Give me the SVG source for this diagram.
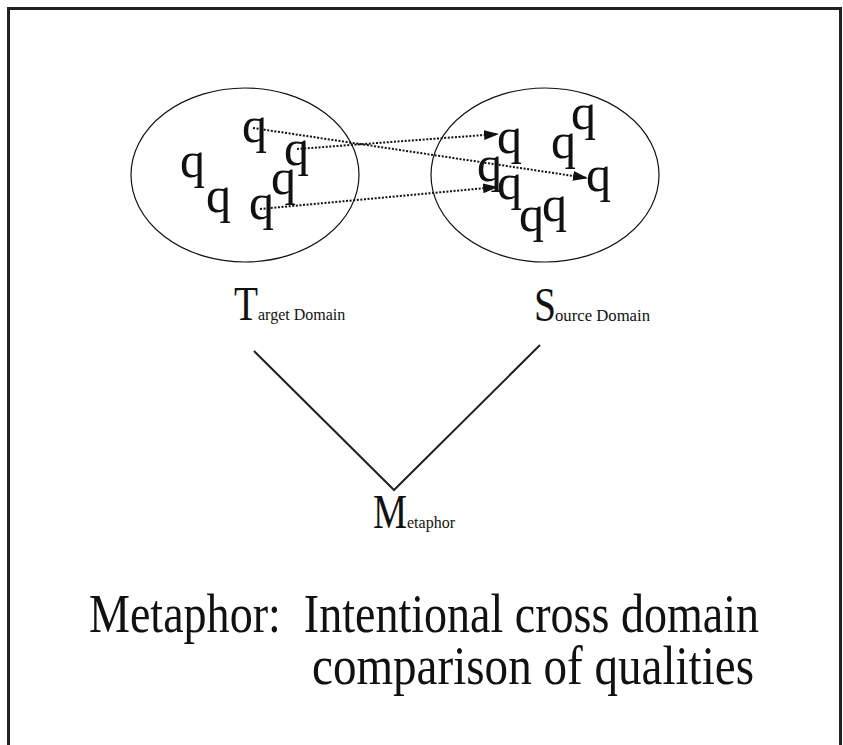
<svg xmlns="http://www.w3.org/2000/svg" width="843" height="745" viewBox="0 0 843 745">
<style>
.q{font-family:"Liberation Serif","Times New Roman",serif;font-size:50px;fill:#111}
.big{font-family:"Liberation Serif","Times New Roman",serif;font-size:48px;fill:#111}
.small{font-family:"Liberation Serif","Times New Roman",serif;font-size:16px;fill:#111}
.title{font-family:"Liberation Serif","Times New Roman",serif;font-size:54px;fill:#111;white-space:pre}
.dom{fill:none;stroke:#111;stroke-width:1.2}
.dot{fill:none;stroke:#111;stroke-width:2;stroke-dasharray:2 1.6}
.ln{fill:none;stroke:#222;stroke-width:2}
</style>
<defs>
<marker id="ah" markerUnits="userSpaceOnUse" markerWidth="15" markerHeight="10" refX="14" refY="5" orient="auto">
<path d="M0,0 L15,5 L0,10 Z" fill="#111"/>
</marker>
</defs>
<rect x="0" y="0" width="843" height="745" fill="#fff"/>
<rect x="8.5" y="8.5" width="832" height="760" fill="none" stroke="#222" stroke-width="3"/>
<g id="target-domain">
<ellipse class="dom" cx="245" cy="175" rx="114" ry="87"/>
<text class="q" x="242" y="142">q</text>
<text class="q" x="284" y="165">q</text>
<text class="q" x="180" y="177">q</text>
<text class="q" x="271" y="194">q</text>
<text class="q" x="206" y="212">q</text>
<text class="q" x="249" y="219">q</text>
</g>
<g id="source-domain">
<ellipse class="dom" cx="545" cy="175" rx="114" ry="87"/>
<text class="q" x="497" y="153">q</text>
<text class="q" x="571" y="129">q</text>
<text class="q" x="551" y="158">q</text>
<text class="q" x="477" y="181">q</text>
<text class="q" x="586" y="191">q</text>
<text class="q" x="497" y="199">q</text>
<text class="q" x="519" y="231">q</text>
<text class="q" x="542" y="221">q</text>
</g>
<g id="target-label">
<text class="big" x="234" y="320" textLength="24" lengthAdjust="spacingAndGlyphs">T</text>
<text class="small" x="258" y="320">arget Domain</text>
</g>
<g id="source-label">
<text class="big" x="534" y="321" textLength="22" lengthAdjust="spacingAndGlyphs">S</text>
<text class="small" x="555" y="321" textLength="95" lengthAdjust="spacingAndGlyphs">ource Domain</text>
</g>
<g id="metaphor-label">
<text class="big" x="373" y="528" textLength="34" lengthAdjust="spacingAndGlyphs">M</text>
<text class="small" x="407" y="528">etaphor</text>
</g>
<g id="caption">
<text class="title" x="89" y="632" textLength="670" lengthAdjust="spacingAndGlyphs" xml:space="preserve">Metaphor:  Intentional cross domain</text>
<text class="title" x="312" y="684" textLength="442" lengthAdjust="spacingAndGlyphs">comparison of qualities</text>
</g>
<g id="connectors">
<line class="dot" x1="253" y1="128" x2="587" y2="178" marker-end="url(#ah)"/>
<line class="dot" x1="297" y1="149" x2="498" y2="134" marker-end="url(#ah)"/>
<line class="dot" x1="260" y1="209" x2="497" y2="187" marker-end="url(#ah)"/>
<polyline class="ln" points="254,351 394,490 540,345"/>
</g>
</svg>
